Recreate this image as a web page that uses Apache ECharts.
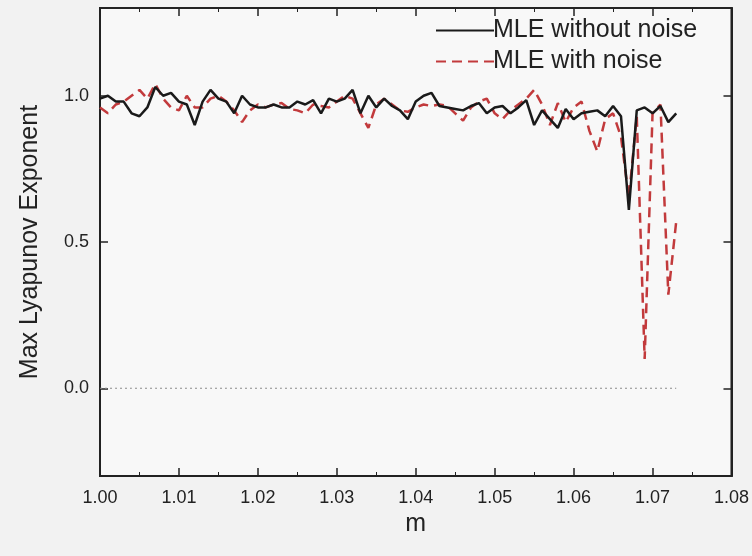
<!DOCTYPE html>
<html>
<head>
<meta charset="utf-8">
<title>MLE</title>
<script src="https://cdn.jsdelivr.net/npm/echarts@6/dist/echarts.min.js"></script>
<style>
  html, body { margin: 0; padding: 0; background: #f2f2f2; }
  #chart { width: 752px; height: 556px; }
</style>
</head>
<body>
<div id="chart"></div>
<script>
// m values (step 0.001)
const mValues = [
  1.000, 1.001, 1.002, 1.003, 1.004, 1.005, 1.006, 1.007, 1.008, 1.009,
  1.010, 1.011, 1.012, 1.013, 1.014, 1.015, 1.016, 1.017, 1.018, 1.019,
  1.020, 1.021, 1.022, 1.023, 1.024, 1.025, 1.026, 1.027, 1.028, 1.029,
  1.030, 1.031, 1.032, 1.033, 1.034, 1.035, 1.036, 1.037, 1.038, 1.039,
  1.040, 1.041, 1.042, 1.043, 1.044, 1.045, 1.046, 1.047, 1.048, 1.049,
  1.050, 1.051, 1.052, 1.053, 1.054, 1.055, 1.056, 1.057, 1.058, 1.059,
  1.060, 1.061, 1.062, 1.063, 1.064, 1.065, 1.066, 1.067, 1.068, 1.069,
  1.070, 1.071, 1.072, 1.073
]

// MLE without noise
const mleClean = [
  0.99, 1.00, 0.98, 0.98, 0.94, 0.93, 0.96, 1.03, 1.00, 1.01,
  0.98, 0.97, 0.90, 0.98, 1.02, 0.99, 0.98, 0.94, 1.00, 0.97,
  0.96, 0.96, 0.97, 0.96, 0.96, 0.98, 0.97, 0.985, 0.94, 0.99,
  0.98, 0.99, 1.02, 0.94, 1.00, 0.96, 0.99, 0.965, 0.95, 0.92,
  0.98, 1.00, 1.01, 0.965, 0.96, 0.955, 0.95, 0.965, 0.975, 0.94,
  0.96, 0.965, 0.94, 0.96, 0.985, 0.90, 0.95, 0.92, 0.89, 0.955,
  0.92, 0.94, 0.945, 0.95, 0.93, 0.965, 0.93, 0.61, 0.95, 0.96,
  0.94, 0.965, 0.91, 0.94
]

// MLE with noise
const mleNoise = [
  0.96, 0.94, 0.97, 0.98, 1.00, 1.02, 0.99, 1.04, 0.99, 0.96,
  0.95, 1.00, 0.96, 0.96, 0.99, 1.00, 0.98, 0.95, 0.91, 0.95,
  0.97, 0.96, 0.97, 0.975, 0.955, 0.95, 0.94, 0.97, 0.965, 0.96,
  0.98, 1.00, 0.99, 0.94, 0.89, 0.97, 0.99, 0.97, 0.95, 0.945,
  0.96, 0.97, 0.965, 0.97, 0.965, 0.94, 0.915, 0.96, 0.98, 0.99,
  0.94, 0.92, 0.95, 0.97, 0.99, 1.02, 0.97, 0.90, 0.975, 0.91,
  0.96, 0.98, 0.88, 0.81, 0.92, 0.94, 0.86, 0.65, 0.93, 0.10,
  0.94, 0.97, 0.32, 0.57
]

const yTicks = [0, 0.5, 1.0]

const font = '"Liberation Sans", Arial, sans-serif'

const chart = echarts.init(document.getElementById('chart'))

const zip = ys => mValues.map((m, i) => [m, ys[i]])

const tickLine = { color: '#222', width: 1.5 }

const baseX = {
  type: 'value',
  min: 1.00,
  max: 1.08,
  interval: 0.01,
  axisLine: { show: true, onZero: false, lineStyle: { color: '#222', width: 2 } },
  axisTick: { inside: true, length: 8, lineStyle: tickLine },
  minorTick: { show: true, splitNumber: 2, length: 4, lineStyle: { color: '#222' } },
  splitLine: { show: false }
}

const baseY = {
  type: 'value',
  min: -0.3,
  max: 1.3,
  axisLine: { show: true, onZero: false, lineStyle: { color: '#222', width: 2 } },
  axisTick: { inside: true, length: 8, customValues: yTicks, lineStyle: tickLine },
  splitLine: { show: false }
}

const option = {
  backgroundColor: '#f2f2f2',
  animation: false,
  textStyle: { fontFamily: font },
  grid: {
    left: 100, right: 20, top: 8, bottom: 80,
    show: true,
    backgroundColor: '#f8f8f8',
    borderColor: '#222',
    borderWidth: 2
  },
  legend: {
    orient: 'vertical',
    left: 430,
    top: 13,
    itemWidth: 58,
    itemHeight: 14,
    itemGap: 6,
    itemStyle: { opacity: 0 },
    textStyle: { fontSize: 25, color: '#222', fontFamily: font, padding: [0, 0, 0, -6] },
    data: ['MLE without noise', 'MLE with noise']
  },
  xAxis: [
    Object.assign({}, baseX, {
      name: 'm',
      nameLocation: 'middle',
      nameGap: 34,
      nameTextStyle: { fontSize: 25, color: '#222', fontFamily: font },
      axisLabel: {
        fontSize: 18, color: '#222', margin: 13,
        formatter: v => v.toFixed(2)
      }
    }),
    Object.assign({}, baseX, { position: 'top', axisLabel: { show: false } })
  ],
  yAxis: [
    Object.assign({}, baseY, {
      name: 'Max Lyapunov Exponent',
      nameLocation: 'middle',
      nameGap: 57,
      nameTextStyle: { fontSize: 25, color: '#222', fontFamily: font },
      axisLabel: {
        fontSize: 18, color: '#222', margin: 11,
        customValues: yTicks,
        formatter: v => v.toFixed(1)
      }
    }),
    Object.assign({}, baseY, { position: 'right', axisLabel: { show: false } })
  ],
  series: [
    {
      name: 'zero',
      type: 'line',
      symbol: 'none',
      silent: true,
      data: zip(mValues.map(() => 0)),
      lineStyle: { color: '#8a8a8a', width: 1, type: [2, 3] },
      z: 1
    },
    {
      name: 'MLE with noise',
      type: 'line',
      symbol: 'none',
      data: zip(mleNoise),
      color: '#c23a3c',
      lineStyle: { color: '#c23a3c', width: 2.5, type: [10, 6] },
      z: 2
    },
    {
      name: 'MLE without noise',
      type: 'line',
      symbol: 'none',
      data: zip(mleClean),
      color: '#1a1a1a',
      lineStyle: { color: '#1a1a1a', width: 2.5 },
      z: 3
    }
  ]
}

chart.setOption(option)
</script>
</body>
</html>
